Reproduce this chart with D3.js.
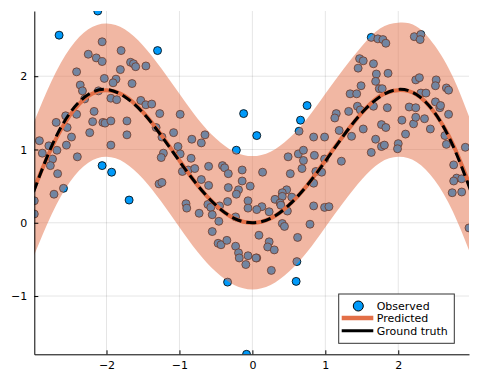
<!DOCTYPE html>
<html>
<head>
<meta charset="utf-8">
<script src="https://cdn.jsdelivr.net/npm/d3@7"></script>
<style>
  body { margin: 0; background: #fff; }
  text { font-family: "DejaVu Sans", sans-serif; }
</style>
</head>
<body>
<div id="chart"></div>
<script>
// Observed points
const obsX = [-2.12, -2.65, -2.06, -1.80, -2.25, -2.14, -2.06, -1.67, -1.63, -1.60,
  -1.46, -1.81, -2.41, -2.03, -1.87, -1.91, -1.65, -2.36, -2.33, -2.11,
  -2.30, -1.94, -1.86, -1.53, -1.46, -1.38, -2.17, -2.41, -2.56, -2.19,
  -2.05, -2.02, -1.94, -1.72, -2.69, -2.54, -2.23, -1.72, -2.48, -2.92,
  -2.79, -2.55, -1.94, -2.88, -2.68, -2.74, -2.40, -2.77, -2.67, -2.06,
  -1.93, -2.59, -2.72, -2.99, -2.99, -1.69, -1.30, -1.27, -0.99, -1.32,
  -1.24, -1.08, -0.83, -0.65, -0.70, -1.02, -1.22, -1.25, -0.99, -0.84,
  -0.96, -0.88, -0.79, -0.60, -0.41, -0.38, -0.33, -0.14, 0.14, -0.12,
  0.75, 0.66, 0.64, 0.84, 0.06, -0.22, 0.49, 0.63, 0.70, 0.70,
  0.85, 0.99, 1.22, 0.68, 0.52, 0.87, 0.95, -1.28, -1.24, -0.70,
  -0.60, -0.33, -0.14, -0.19, -0.22, -0.03, 0.47, 0.41, 0.41, 0.84,
  0.31, 0.54, 0.38, 0.39, 0.13, 0.06, 0.23, 0.48, 0.84, 0.99,
  1.05, 0.41, 0.44, 0.79, 0.09, 0.62, 0.23, 0.21, 0.30, 0.06,
  0.61, 0.26, 0.60, -0.91, -0.90, -0.73, -0.61, -0.57, -0.55, -0.45,
  -0.46, -0.34, -0.23, -0.06, -0.06, -0.55, -0.47, -0.43, -0.35, -0.23,
  -0.19, -0.18, -0.06, 0.05, -0.09, -0.34, -0.08, 1.63, 1.72, 1.79,
  1.83, 2.22, 2.31, 2.30, 1.47, 1.52, 1.45, 1.66, 1.70, 1.69,
  1.86, 1.74, 1.78, 1.49, 1.34, 1.43, 2.24, 2.29, 2.52, 2.51,
  2.66, 2.69, 2.31, 2.38, 1.44, 1.48, 1.15, 1.13, 1.32, 1.66,
  1.85, 2.15, 2.24, 2.51, 2.57, 2.58, 2.69, 2.05, 2.21, 2.24,
  2.36, 2.44, 1.19, 1.52, 1.77, 1.83, 0.99, 1.36, 2.10, 2.64,
  1.69, 1.77, 1.81, 2.00, 1.99, 2.66, 2.92, 1.63, 2.76, 2.80,
  2.76, 2.87, 2.74, 2.87, 2.97];
const obsY = [2.89, 2.56, 2.47, 2.35, 2.30, 2.25, 2.20, 2.19, 2.17, 2.13,
  2.14, 2.09, 2.06, 1.97, 1.96, 1.91, 1.90, 1.88, 1.80, 1.80,
  1.69, 1.70, 1.68, 1.67, 1.61, 1.62, 1.52, 1.48, 1.46, 1.38,
  1.37, 1.36, 1.39, 1.39, 1.37, 1.30, 1.23, 1.20, 1.17, 1.12,
  1.05, 1.06, 1.06, 0.95, 0.99, 0.87, 0.90, 0.78, 0.67, 0.78,
  0.69, 0.47, 0.39, 0.30, 0.12, 0.31, 2.35, 1.49, 1.48, 1.30,
  1.17, 1.23, 1.14, 1.20, 1.09, 1.04, 0.95, 0.89, 0.94, 0.88,
  0.70, 0.72, 0.74, 0.77, 0.78, 0.75, 0.67, 0.72, 0.69, 1.49,
  1.60, 1.40, 1.25, 1.17, 1.19, 0.99, 0.90, 0.94, 0.99, 0.85,
  0.92, 0.87, 0.84, 0.74, 0.67, 0.70, 0.69, 0.53, 0.55, 0.59,
  0.51, 0.48, 0.57, 0.45, 0.39, 0.50, 0.45, 0.41, 0.36, 0.54,
  0.32, 0.35, 0.27, 0.24, 0.22, 0.18, 0.15, 0.16, 0.23, 0.21,
  0.22, -0.01, -0.05, -0.02, -0.17, -0.20, -0.26, -0.33, -0.37, -0.48,
  -0.53, -0.65, -0.80, 0.26, 0.20, 0.13, 0.25, 0.21, 0.11, 0.23,
  0.02, 0.29, 0.08, 0.30, 0.20, -0.12, -0.28, -0.30, -0.24, -0.32,
  -0.41, -0.48, -0.45, -0.48, -0.57, -0.81, -1.795, 2.53, 2.51, 2.50,
  2.45, 2.54, 2.57, 2.50, 2.24, 2.21, 2.11, 2.17, 2.03, 1.93,
  2.04, 1.83, 1.83, 1.87, 1.76, 1.76, 1.95, 1.98, 1.95, 1.87,
  1.84, 1.81, 1.77, 1.77, 1.59, 1.54, 1.49, 1.43, 1.52, 1.59,
  1.57, 1.58, 1.57, 1.65, 1.57, 1.60, 1.48, 1.40, 1.35, 1.44,
  1.42, 1.28, 1.26, 1.28, 1.34, 1.30, 1.17, 1.18, 1.21, 1.19,
  1.14, 1.04, 1.06, 1.08, 1.01, 1.07, 1.03, 0.96, 0.79, 0.61,
  0.57, 0.60, 0.41, 0.42, -0.07];

// Curves on a regular grid
const gridX = [-3, -2.75, -2.5, -2.25, -2, -1.75, -1.5, -1.25, -1, -0.75, -0.5, -0.25, 0,
  0.25, 0.5, 0.75, 1, 1.25, 1.5, 1.75, 2, 2.25, 2.5, 2.75, 3];
const truthY = [0.42, 1.05, 1.50, 1.75, 1.82, 1.72, 1.50, 1.19, 0.84, 0.51, 0.24, 0.06, 0,
  0.06, 0.24, 0.51, 0.84, 1.19, 1.50, 1.72, 1.82, 1.75, 1.50, 1.05, 0.42];
const predY = [0.45, 1.03, 1.47, 1.73, 1.81, 1.73, 1.51, 1.20, 0.85, 0.51, 0.24, 0.06, 0,
  0.06, 0.24, 0.51, 0.85, 1.19, 1.50, 1.73, 1.81, 1.75, 1.50, 1.07, 0.46];
const lowerY = [-0.46, 0.12, 0.56, 0.82, 0.90, 0.82, 0.60, 0.29, -0.06, -0.40, -0.67, -0.85, -0.91,
  -0.85, -0.67, -0.40, -0.06, 0.28, 0.59, 0.82, 0.90, 0.83, 0.58, 0.15, -0.45];
const upperY = [1.36, 1.94, 2.38, 2.64, 2.72, 2.64, 2.42, 2.11, 1.76, 1.42, 1.15, 0.97, 0.91,
  0.97, 1.15, 1.42, 1.76, 2.10, 2.41, 2.65, 2.73, 2.68, 2.42, 1.99, 1.37];

const xTicks = [-2, -1, 0, 1, 2];
const yTicks = [-1, 0, 1, 2];
const legendLabels = ["Observed", "Predicted", "Ground truth"];

const width = 480;
const height = 384;
const margin = {left: 34.3, right: 11, top: 11, bottom: 29.7};
const blue = "#009AFA";
const orange = "#E36F47";

const svg = d3.select("#chart")
  .append("svg")
  .attr("width", width)
  .attr("height", height);

const xScale = d3.scaleLinear()
  .domain(d3.extent(obsX))
  .range([margin.left, width - margin.right]);

const yScale = d3.scaleLinear()
  .domain(d3.extent(obsY))
  .range([height - margin.bottom, margin.top]);

// clip everything to the plot area
svg.append("clipPath")
  .attr("id", "plotclip")
  .append("rect")
  .attr("x", margin.left)
  .attr("y", margin.top)
  .attr("width", width - margin.left - margin.right)
  .attr("height", height - margin.top - margin.bottom);

// grid
const grid = svg.append("g").attr("stroke", "#000").attr("stroke-opacity", 0.1).attr("stroke-width", 1);
grid.selectAll(".gx").data(xTicks).enter().append("line")
  .attr("x1", d => xScale(d)).attr("x2", d => xScale(d))
  .attr("y1", margin.top).attr("y2", height - margin.bottom);
grid.selectAll(".gy").data(yTicks).enter().append("line")
  .attr("x1", margin.left).attr("x2", width - margin.right)
  .attr("y1", d => yScale(d)).attr("y2", d => yScale(d));

const plot = svg.append("g").attr("clip-path", "url(#plotclip)");

// observed scatter
plot.selectAll(".obs")
  .data(d3.range(obsX.length))
  .enter()
  .append("circle")
    .attr("cx", i => xScale(obsX[i]))
    .attr("cy", i => yScale(obsY[i]))
    .attr("r", 4)
    .attr("fill", blue)
    .attr("stroke", "#000")
    .attr("stroke-opacity", 0.8)
    .attr("stroke-width", 1);

const idx = d3.range(gridX.length);

// ribbon of the prediction, drawn over the points
const band = d3.area()
  .x(i => xScale(gridX[i]))
  .y0(i => yScale(lowerY[i]))
  .y1(i => yScale(upperY[i]))
  .curve(d3.curveNatural);

plot.append("path")
  .datum(idx)
  .attr("d", band)
  .attr("fill", orange)
  .attr("fill-opacity", 0.5);

const predLine = d3.line()
  .x(i => xScale(gridX[i]))
  .y(i => yScale(predY[i]))
  .curve(d3.curveNatural);

plot.append("path")
  .datum(idx)
  .attr("d", predLine)
  .attr("fill", "none")
  .attr("stroke", orange)
  .attr("stroke-width", 4);

const truthLine = d3.line()
  .x(i => xScale(gridX[i]))
  .y(i => yScale(truthY[i]))
  .curve(d3.curveNatural);

plot.append("path")
  .datum(idx)
  .attr("d", truthLine)
  .attr("fill", "none")
  .attr("stroke", "#000")
  .attr("stroke-width", 3)
  .attr("stroke-dasharray", "10,5");

// axes
const fmt = d3.format("d");

svg.append("g")
  .attr("transform", `translate(${margin.left},0)`)
  .call(d3.axisLeft(yScale).tickValues(yTicks).tickFormat(fmt).tickSizeInner(-4).tickSizeOuter(0).tickPadding(7))
  .call(g => g.selectAll("text").attr("font-size", "11px").attr("font-family", "DejaVu Sans").attr("fill", "#000"));

svg.append("g")
  .attr("transform", `translate(0,${height - margin.bottom})`)
  .call(d3.axisBottom(xScale).tickValues(xTicks).tickFormat(fmt).tickSizeInner(-4).tickSizeOuter(0).tickPadding(7))
  .call(g => g.selectAll("text").attr("font-size", "11px").attr("font-family", "DejaVu Sans").attr("fill", "#000"));

// legend
const lx = width - margin.right - 130.3;
const ly = height - margin.bottom - 60.3;
const legend = svg.append("g").attr("transform", `translate(${lx},${ly})`);

legend.append("rect")
  .attr("x", 0).attr("y", 0)
  .attr("width", 115.6).attr("height", 49.3)
  .attr("fill", "#fff")
  .attr("stroke", "#333")
  .attr("stroke-width", 1);

legend.append("circle")
  .attr("cx", 19.6).attr("cy", 12)
  .attr("r", 5)
  .attr("fill", blue)
  .attr("stroke", "#000");

legend.append("line")
  .attr("x1", 3).attr("x2", 34.6)
  .attr("y1", 24).attr("y2", 24)
  .attr("stroke", orange).attr("stroke-width", 4.5);

legend.append("line")
  .attr("x1", 3).attr("x2", 34.6)
  .attr("y1", 36.7).attr("y2", 36.7)
  .attr("stroke", "#000").attr("stroke-width", 3);

legend.selectAll(".lab")
  .data(legendLabels)
  .enter()
  .append("text")
    .attr("x", 38)
    .attr("y", (d, i) => 12 + i * 12.35)
    .attr("dy", "0.35em")
    .attr("font-size", "11px")
    .text(d => d);
</script>
</body>
</html>
